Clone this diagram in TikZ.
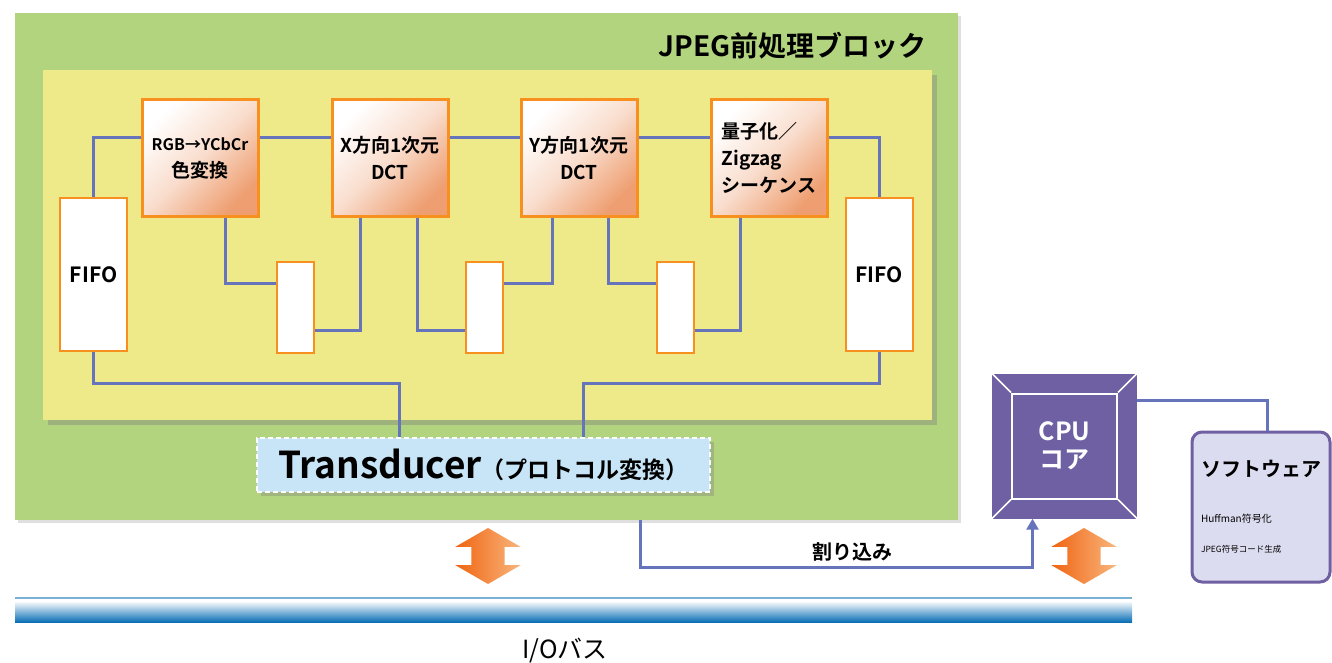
\documentclass[tikz,border=0pt]{standalone}
\usepackage{fontspec}
\setmainfont{Noto Sans CJK JP}[BoldFont={Noto Sans CJK JP Bold}]
\usetikzlibrary{arrows.meta,shapes.arrows,shadows}

\definecolor{verde}{HTML}{B3D47E}
\definecolor{amarelo}{HTML}{EEEA8A}
\definecolor{laranja}{HTML}{F7901E}
\definecolor{pessego}{HTML}{EE9E70}
\definecolor{azulfio}{HTML}{6674BB}
\definecolor{azulclaro}{HTML}{C7E5F6}
\definecolor{roxo}{HTML}{6E60A2}
\definecolor{lilas}{HTML}{DCDCF0}
\definecolor{azulbus}{HTML}{0A6FB5}
\definecolor{laranjaforte}{HTML}{F06410}
\definecolor{laranjaclaro}{HTML}{F8B67E}

\newcommand\tam[2]{\fontsize{#1}{#2}\selectfont}

\begin{document}
\begin{tikzpicture}[x=1pt, y=-1pt,
    bloco/.style={draw=laranja, line width=3pt, top color=white, bottom color=pessego, middle color=pessego!35, shading angle=45, minimum width=116pt, minimum height=116pt, inner sep=2pt, font=\tam{19}{27}\bfseries},
    fifo/.style={draw=laranja, line width=2pt, fill=white, minimum width=67pt, minimum height=153pt, font=\tam{21}{24}\bfseries},
    buffer/.style={draw=laranja, line width=2pt, fill=white, minimum width=37pt, minimum height=91pt},
    fio/.style={draw=azulfio, line width=3pt},
    seta/.style={double arrow, rotate=90, minimum height=56pt, inner xsep=0pt, inner ysep=16.5pt, double arrow head extend=16pt, double arrow tip angle=120, left color=laranjaforte, middle color=laranjaforte!85!laranjaclaro, right color=laranjaclaro}]
    \useasboundingbox (0,0) rectangle (1332,663);

    % Bloco JPEG e area interna
    \node[fill=verde, minimum width=943pt, minimum height=507pt, drop shadow={shadow xshift=3pt, shadow yshift=-3pt, opacity=.25}] (jpeg) at (486.5,266.5) {};
    \node[font=\tam{28}{32}\bfseries, anchor=east] (titulo) at (930,46) {JPEG前処理ブロック};
    \node[fill=amarelo, minimum width=889pt, minimum height=350pt, drop shadow={shadow xshift=5pt, shadow yshift=-5pt, opacity=.4}] (area) at (487.5,245) {};

    % Blocos de processamento: x/alinhamento/texto
    \foreach \x/\al/\txt [count=\i] in {200/center/{{\tam{16}{27}RGB→YCbCr}\\色変換}, 390/center/{X方向1次元\\DCT}, 579/center/{Y方向1次元\\DCT}, 769/left/{量子化／\\Zigzag\\シーケンス}} {
        \node[bloco, align=\al] (b\i) at (\x,158) {\txt};
    }
    \node[fifo] (fifoE) at (93.5,274.5) {FIFO};
    \node[fifo] (fifoD) at (879,274.5) {FIFO};
    \foreach \x [count=\i] in {295.5,484.5,675} {
        \node[buffer] (buf\i) at (\x,307.5) {};
    }
    \node[fill=azulclaro, draw=white, dash pattern=on 5pt off 3pt, line width=2pt, minimum width=453pt, minimum height=54pt, drop shadow={shadow xshift=4pt, shadow yshift=-4pt, opacity=.35}] (trans) at (483.5,465) {{\tam{37}{40}\bfseries Transducer}{\tam{23}{26}\bfseries（プロトコル変換）}};

    % Ligacoes
    \draw[fio] (fifoE.north) |- ([yshift=20pt]b1.west);
    \foreach \a/\b in {1/2,2/3,3/4} {
        \draw[fio] ([yshift=20pt]b\a.east) -- ([yshift=20pt]b\b.west);
    }
    \draw[fio] ([yshift=20pt]b4.east) -| (fifoD.north);
    \draw[fio] ([xshift=25pt]b1.south) |- ([yshift=24pt]buf1.west);
    \draw[fio] ([yshift=-23pt]buf1.east) -| ([xshift=-30pt]b2.south);
    \draw[fio] ([xshift=27pt]b2.south) |- ([yshift=-23pt]buf2.west);
    \draw[fio] ([yshift=24pt]buf2.east) -| ([xshift=-27pt]b3.south);
    \draw[fio] ([xshift=29pt]b3.south) |- ([yshift=24pt]buf3.west);
    \draw[fio] ([yshift=-23pt]buf3.east) -| ([xshift=-29pt]b4.south);
    \draw[fio] (fifoE.south) -- ++(0,31) -| ([xshift=-84pt]trans.north);
    \draw[fio] (fifoD.south) -- ++(0,31) -| ([xshift=100pt]trans.north);

    % CPU e software
    \node[fill=roxo, minimum size=145pt, inner sep=0] (cpu) at (1064.5,446) {};
    \node[draw=white, line width=2pt, minimum size=105pt, inner sep=0, text=white, align=center, font=\tam{25}{28}\bfseries] (cpuin) at (cpu.center) {CPU\\コア};
    \foreach \c in {north west, north east, south west, south east} {
        \draw[white, line width=1.5pt] (cpu.\c) -- (cpuin.\c);
    }
    \node[draw=roxo, line width=3pt, fill=lilas, rounded corners=10pt, minimum width=138pt, minimum height=150pt, align=left] (soft) at (1261,507) {{\tam{20}{24}\bfseries ソフトウェア}\\[34pt]{\tam{10}{12}Huffman符号化}\\[18pt]{\tam{8.5}{11}JPEG符号コード生成}};
    \draw[fio] ([yshift=46pt]cpu.east) -| ([xshift=6pt]soft.north);
    \draw[fio, -{Triangle[width=12pt,length=11pt]}] ([xshift=154pt]jpeg.south) -- ++(0,47) -| node[pos=0.27, above=1pt, font=\tam{20}{24}\bfseries] (irq) {割り込み} ([xshift=-32pt]cpu.south);

    % Barramento de E/S
    \draw[azulbus!55, line width=2pt] (15,598) -- (1132,598);
    \shade[top color=white, bottom color=azulbus] (15,601) rectangle (1132,622);
    \node[font=\tam{25}{28}] (bus) at (565,650) {I/Oバス};
    \node[seta] (setaE) at (488,556) {};
    \node[seta] (setaD) at (1084,556) {};
\end{tikzpicture}
\end{document}
